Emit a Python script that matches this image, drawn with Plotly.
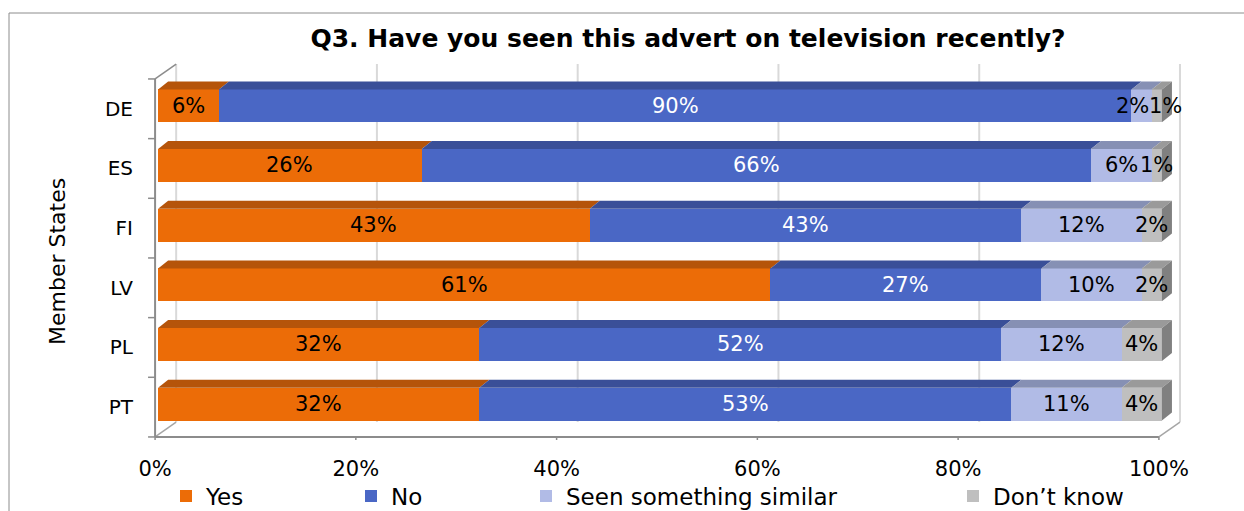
import plotly.graph_objects as go

# ---- data -----------------------------------------------------------------
states = ["DE", "ES", "FI", "LV", "PL", "PT"]
series_names = ["Yes", "No", "Seen something similar", "Don\u2019t know"]
yes = [6, 26, 43, 61, 32, 32]
no = [90, 66, 43, 27, 52, 53]
similar = [2, 6, 12, 10, 12, 11]
dont_know = [1, 1, 2, 2, 4, 4]
x_ticks = [0, 20, 40, 60, 80, 100]
x_tick_labels = ["0%", "20%", "40%", "60%", "80%", "100%"]

# ---- styling --------------------------------------------------------------
front_colors = ["#EC6C07", "#4A67C5", "#B1BBE6", "#BFBFBF"]
top_colors = ["#B5540A", "#3A4F98", "#8690B4", "#9A9A9A"]
side_color = "#808080"
label_colors = ["#000000", "#FFFFFF", "#000000", "#000000"]
FONT = "DejaVu Sans"

W, H = 1244, 511
ML, MR, MT, MB = 134, 58, 60, 71
PW, PH = W - ML - MR, H - MT - MB
X_RANGE = [-2.4, 102.4]
Y_RANGE = [5.601, -0.7676]          # reversed: first state on top
PX_PER_X = PW / (X_RANGE[1] - X_RANGE[0])

BAR_W = 0.55                         # bar thickness in category units
DX, DY = 1.0, 0.134                  # bar depth (top / side faces)
FX, FY = -0.3, 0.05                  # front plane offset from bar faces
BX, BY = 2.1, -0.25                  # back wall offset from front plane


def px_x(p):
    return (p - ML) / PW


def px_y(p):
    return (H - MB - p) / PH


series = [yes, no, similar, dont_know]
rows = list(range(len(states)))
totals = [sum(s[i] for s in series) for i in rows]
shares = [[s[i] / totals[i] * 100 for i in rows] for s in series]

fig = go.Figure()
legend_ids = ["legend", "legend2", "legend3", "legend4"]
for k, name in enumerate(series_names):
    fig.add_trace(go.Bar(
        y=rows, x=shares[k], orientation="h", name=name,
        marker=dict(color=front_colors[k], line=dict(width=0)),
        width=BAR_W, legend=legend_ids[k], hoverinfo="skip",
    ))

shapes = []
grid_col, axis_col, diag_col = "#D9D9D9", "#8C8C8C", "#A6A6A6"

# back wall gridlines
y_floor = len(states) - 0.5 + FY
y_top = -0.5 + FY
for v in x_ticks:
    shapes.append(dict(type="line", xref="x", yref="y", layer="below",
                       x0=v + FX + BX, x1=v + FX + BX,
                       y0=y_floor + BY, y1=y_top + BY,
                       line=dict(color=grid_col, width=2)))

# left wall and floor edges
def seg(x0, y0, x1, y1, col, w=1.5):
    shapes.append(dict(type="line", xref="x", yref="y", layer="below",
                       x0=x0, y0=y0, x1=x1, y1=y1, line=dict(color=col, width=w)))

seg(FX, y_top, FX + BX, y_top + BY, axis_col)
seg(FX, y_floor, FX + BX, y_floor + BY, diag_col)
seg(100 + FX, y_floor, 100 + FX + BX, y_floor + BY, diag_col)
seg(FX, y_top, FX, y_floor, axis_col, 2)
seg(FX, y_floor, 100 + FX, y_floor, axis_col, 2)
for k in range(len(states) + 1):
    yy = k - 0.5 + FY
    seg(FX - 0.7, yy, FX, yy, axis_col)
for v in x_ticks:
    seg(v + FX, y_floor, v + FX, y_floor + 0.1, axis_col)

# top faces of each segment and the right-hand side face of each bar
for i in rows:
    yt = i - BAR_W / 2
    yb = i + BAR_W / 2
    start = 0.0
    for k in range(len(series)):
        end = start + shares[k][i]
        path = (f"M{start},{yt} L{end},{yt} L{end + DX},{yt - DY} "
                f"L{start + DX},{yt - DY} Z")
        shapes.append(dict(type="path", xref="x", yref="y", layer="above",
                           path=path, fillcolor=top_colors[k],
                           line=dict(width=0)))
        start = end
    path = (f"M{start},{yt} L{start + DX},{yt - DY} L{start + DX},{yb - DY} "
            f"L{start},{yb} Z")
    shapes.append(dict(type="path", xref="x", yref="y", layer="above",
                       path=path, fillcolor=side_color, line=dict(width=0)))

# outer chart border
shapes.append(dict(type="rect", xref="paper", yref="paper", layer="below",
                   x0=px_x(9), y0=px_y(13), x1=px_x(W + 20), y1=px_y(H + 20),
                   line=dict(color="#8C8C8C", width=1)))

# value labels, centred on each segment and nudged apart where they collide
LABEL_SIZE = 21


def text_width(t):
    return sum(0.95 if c == "%" else 0.636 for c in t) * LABEL_SIZE


annotations = []
for i in rows:
    items = []
    start = 0.0
    for k in range(len(series)):
        end = start + shares[k][i]
        txt = f"{series[k][i]}%"
        items.append([(start + end) / 2 * PX_PER_X, text_width(txt), txt, k])
        start = end
    for j in range(1, len(items)):
        prev, cur = items[j - 1], items[j]
        overlap = (prev[0] + prev[1] / 2) - (cur[0] - cur[1] / 2)
        if overlap > 0:
            prev[0] -= overlap / 2
            cur[0] += overlap / 2
    for cx, _, txt, k in items:
        annotations.append(dict(
            x=cx / PX_PER_X, y=i, xref="x", yref="y", text=txt,
            showarrow=False, xanchor="center", yanchor="middle",
            font=dict(family=FONT, size=LABEL_SIZE, color=label_colors[k])))

annotations.append(dict(
    x=px_x(57), y=px_y(262), xref="paper", yref="paper",
    text="Member States", textangle=-90, showarrow=False,
    xanchor="center", yanchor="middle",
    font=dict(family=FONT, size=22, color="#000000")))

legend_left = [166, 351, 526, 953]
legends = {}
for lid, lx in zip(legend_ids, legend_left):
    legends[lid] = dict(x=px_x(lx), y=px_y(496), xanchor="left", yanchor="middle",
                        orientation="h", bgcolor="rgba(0,0,0,0)",
                        font=dict(family=FONT, size=23, color="#000000"))

fig.update_layout(
    width=W, height=H,
    margin=dict(l=ML, r=MR, t=MT, b=MB, autoexpand=False),
    barmode="stack",
    paper_bgcolor="white", plot_bgcolor="white",
    showlegend=True,
    title=dict(text="<b>Q3. Have you seen this advert on television recently?</b>",
               x=688 / W, xanchor="center", y=1 - 38 / H, yanchor="middle",
               font=dict(family=FONT, size=25, color="#000000")),
    xaxis=dict(range=X_RANGE, tickvals=[v + FX for v in x_ticks],
               ticktext=x_tick_labels, showgrid=False, zeroline=False,
               showline=False, ticks="", ticklabelstandoff=14,
               tickfont=dict(family=FONT, size=21, color="#000000")),
    yaxis=dict(range=Y_RANGE, tickvals=[r + FY for r in rows], ticktext=states,
               showgrid=False, zeroline=False, showline=False, ticks="",
               tickfont=dict(family=FONT, size=20, color="#000000")),
    shapes=shapes,
    annotations=annotations,
    **legends,
)

fig.write_html("out.html")
